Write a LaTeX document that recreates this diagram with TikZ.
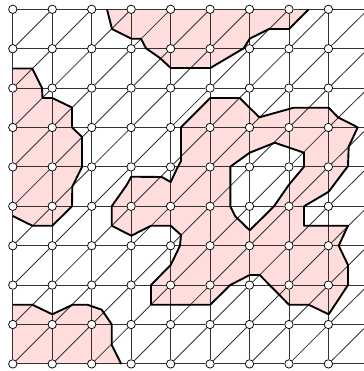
\documentclass[tikz,border=0pt]{standalone}
\usetikzlibrary{backgrounds}
\definecolor{blobfill}{RGB}{255,221,221}
\definecolor{gridline}{RGB}{50,50,50}
\tikzset{
  gridnode/.style={circle,draw=black,fill=white,line width=0.75bp,inner sep=0pt,minimum size=8.4bp},
  gridedge/.style={draw=gridline,line width=0.85bp},
  blobarea/.style={fill=blobfill,even odd rule},
  bloboutline/.style={draw=black,line width=1.9bp,line join=round}
}
\newcommand{\blobtop}{(107,9.3) -- (112,29) -- (131.3,38.7) -- (141,38.7) -- (146,48.3) -- (160,58) -- (170.7,68) -- (210.3,68) -- (243.7,48.3) -- (249.7,38.7) -- (269,29) -- (289,29) -- (308.7,9.3)}
\newcommand{\blobleft}{(12.8,68.5) -- (32.3,68.5) -- (42,88) -- (42.5,98) -- (52.3,98) -- (72,107.5) -- (72,127.3) -- (82,137) -- (82,167) -- (72.3,186.6) -- (72,206.3) -- (52.3,225.7) -- (32.3,225.7) -- (12.8,216)}
\newcommand{\blobbottom}{(12.8,304.7) -- (32.3,304.7) -- (52.3,314.3) -- (72.7,304.7) -- (87.3,304.7) -- (101.7,309.7) -- (111.7,324.3) -- (111.7,345) -- (121.3,364)}
\newcommand{\blobmain}{(210.3,98) -- (239.7,98) -- (259.3,117.3) -- (293.7,107.7) -- (328.7,107.7) -- (338,117.3) -- (357.7,127.3) -- (348.7,146.7) -- (348,166) -- (328.7,191.7) -- (304,206.3) -- (304,225.7) -- (348,225.7) -- (338.7,245.7) -- (348,265) -- (348,285) -- (328.7,314.3) -- (308.7,304.7) -- (289,304.7) -- (259.7,275) -- (249.7,275) -- (230.3,285) -- (210.3,304.7) -- (151,304.7) -- (151,285) -- (170.7,265) -- (180,245.7) -- (181,235) -- (170.7,225.7) -- (151,225.7) -- (131.3,235.7) -- (111.7,225.7) -- (111.7,206.3) -- (126.7,185) -- (131.3,176.7) -- (161.7,177) -- (170.7,182) -- (177,168.5) -- (181,161) -- (181,127.3) -- cycle}
\newcommand{\blobhole}{(230.3,166.7) -- (249.7,152.7) -- (274.7,142.7) -- (304,152.7) -- (304,166.7) -- (288.7,185) -- (274,206.3) -- (249.7,230.3) -- (235.3,216.3) -- (230.3,206.3) -- cycle}
\begin{document}
\begin{tikzpicture}[x=1bp,y=-1bp]
\useasboundingbox (0,0) rectangle (364,371);
% shaded regions
\begin{scope}[on background layer]
  \fill[blobarea] \blobtop -- cycle;
  \fill[blobarea] \blobleft -- cycle;
  \fill[blobarea] \blobbottom -- (12.8,364) -- cycle;
  \fill[blobarea] \blobmain \blobhole;
\end{scope}
% outlines
\draw[bloboutline] \blobtop;
\draw[bloboutline] \blobleft;
\draw[bloboutline] \blobbottom;
\draw[bloboutline] \blobmain;
\draw[bloboutline] \blobhole;
% nodes and free ends
\foreach \i in {0,...,8}
  \foreach \j in {0,...,9}
    \node[gridnode] (n-\i-\j) at ({12.8+39.45*\i},{9.3+39.4*\j}) {};
\foreach \j in {0,...,9}
  \coordinate (h-\j) at (364,{9.3+39.4*\j});
\foreach \j in {1,...,9}
  \coordinate (d-\j) at (364,{9.3+39.4*\j-35.3});
% connectors
\begin{scope}[on background layer]
  \foreach \j in {0,...,9} {
    \foreach \i in {0,...,7} {
      \pgfmathtruncatemacro{\inext}{\i+1}
      \draw[gridedge] (n-\i-\j) -- (n-\inext-\j);
    }
    \draw[gridedge] (n-8-\j) -- (h-\j);
  }
  \foreach \i in {0,...,8}
    \foreach \j in {0,...,8} {
      \pgfmathtruncatemacro{\jnext}{\j+1}
      \draw[gridedge] (n-\i-\j) -- (n-\i-\jnext);
    }
  \foreach \j in {1,...,9} {
    \pgfmathtruncatemacro{\jprev}{\j-1}
    \foreach \i in {0,...,7} {
      \pgfmathtruncatemacro{\inext}{\i+1}
      \draw[gridedge] (n-\i-\j) -- (n-\inext-\jprev);
    }
    \draw[gridedge] (n-8-\j) -- (d-\j);
  }
\end{scope}
\end{tikzpicture}
\end{document}
